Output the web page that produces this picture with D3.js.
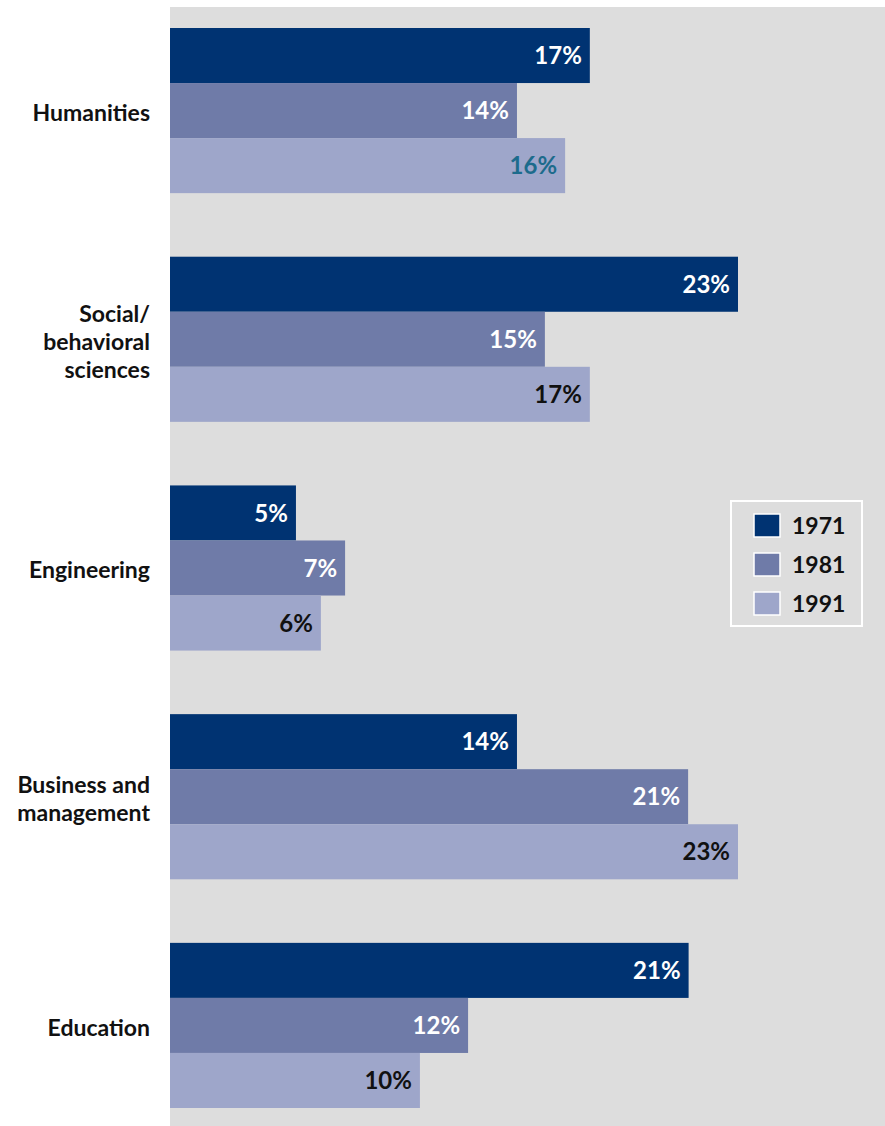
<!DOCTYPE html>
<html>
<head>
    <meta charset="utf-8">
    <title>Field of study by year</title>
    <script src="https://d3js.org/d3.v7.min.js"></script>
    <style>
        body { margin: 0; background: #fff; }
        svg { display: block; font-family: Lato, "Noto Sans", sans-serif; }
        .cat-label { font-size: 23px; font-weight: 700; fill: #111; text-anchor: end; }
        .val-label { font-size: 24px; font-weight: 700; text-anchor: end; }
        .legend-text { font-size: 23px; font-weight: 700; fill: #111; }
    </style>
</head>
<body>
<div id="chart"></div>
<script>
    // categories (top to bottom) and label lines
    const categories = ["Humanities", "Social/behavioral sciences", "Engineering", "Business and management", "Education"];
    const categoryLines = [["Humanities"], ["Social/", "behavioral", "sciences"], ["Engineering"], ["Business and", "management"], ["Education"]];
    const years = ["1971", "1981", "1991"];

    // percent values (labels shown rounded)
    const values1971 = [17.0, 23.0, 5.1, 14.05, 21.0];
    const values1981 = [14.05, 15.18, 7.09, 20.98, 12.07];
    const values1991 = [16.0, 17.0, 6.11, 23.0, 10.12];

    const colors = ["#003372", "#6f7ba8", "#9ea6ca"];
    const labelColors = ["#ffffff", "#ffffff", "#111111"];

    const width = 885, height = 1126;
    const plotLeft = 170;

    const svg = d3.select("#chart").append("svg")
        .attr("width", width)
        .attr("height", height);

    // grey panel
    svg.append("rect")
        .attr("x", plotLeft).attr("y", 7)
        .attr("width", width - plotLeft).attr("height", height - 7)
        .attr("fill", "#dddddd");

    const x = d3.scaleLinear().domain([0, 23]).range([plotLeft, 738]);
    const y = d3.scaleBand().domain(categories).range([28, 1108]).paddingInner(0.278).paddingOuter(0);
    const ySub = d3.scaleBand().domain(years).range([0, y.bandwidth()]).padding(0);

    const series = [values1971, values1981, values1991];
    const data = [];
    categories.forEach((c, i) => {
        years.forEach((yr, j) => {
            data.push({ cat: c, year: yr, idx: j, value: series[j][i] });
        });
    });

    svg.selectAll(".bar")
        .data(data)
        .enter().append("rect")
        .attr("class", "bar")
        .attr("x", x(0))
        .attr("y", d => y(d.cat) + ySub(d.year))
        .attr("width", d => x(d.value) - x(0))
        .attr("height", ySub.bandwidth())
        .attr("fill", d => colors[d.idx]);

    svg.selectAll(".val-label")
        .data(data)
        .enter().append("text")
        .attr("class", "val-label")
        .attr("x", d => x(d.value) - 8)
        .attr("y", d => y(d.cat) + ySub(d.year) + ySub.bandwidth() / 2)
        .attr("dy", "0.36em")
        // the one teal label in the original
        .attr("fill", d => (d.cat === "Humanities" && d.year === "1991") ? "#1d6b8c" : labelColors[d.idx])
        .text(d => Math.round(d.value) + "%");

    // category labels, one text per line so they stack cleanly
    const lineH = 28;
    categories.forEach((c, i) => {
        const lines = categoryLines[i];
        const cy = y(c) + y.bandwidth() / 2 + 2;
        const top = cy - (lines.length - 1) * lineH / 2;
        lines.forEach((l, k) => {
            svg.append("text")
                .attr("class", "cat-label")
                .attr("x", 150)
                .attr("y", top + k * lineH)
                .attr("dy", "0.36em")
                .text(l);
        });
    });

    // legend
    const legend = svg.append("g").attr("transform", "translate(731,501)");
    legend.append("rect")
        .attr("width", 131).attr("height", 125)
        .attr("fill", "#dddddd")
        .attr("stroke", "#ffffff").attr("stroke-width", 2);
    years.forEach((yr, j) => {
        const g = legend.append("g").attr("transform", `translate(23,${13 + j * 39})`);
        g.append("rect")
            .attr("width", 26).attr("height", 23)
            .attr("fill", colors[j])
            .attr("stroke", "#ffffff").attr("stroke-width", 1.5);
        g.append("text")
            .attr("class", "legend-text")
            .attr("x", 38).attr("y", 12)
            .attr("dy", "0.36em")
            .text(yr);
    });
</script>
</body>
</html>
